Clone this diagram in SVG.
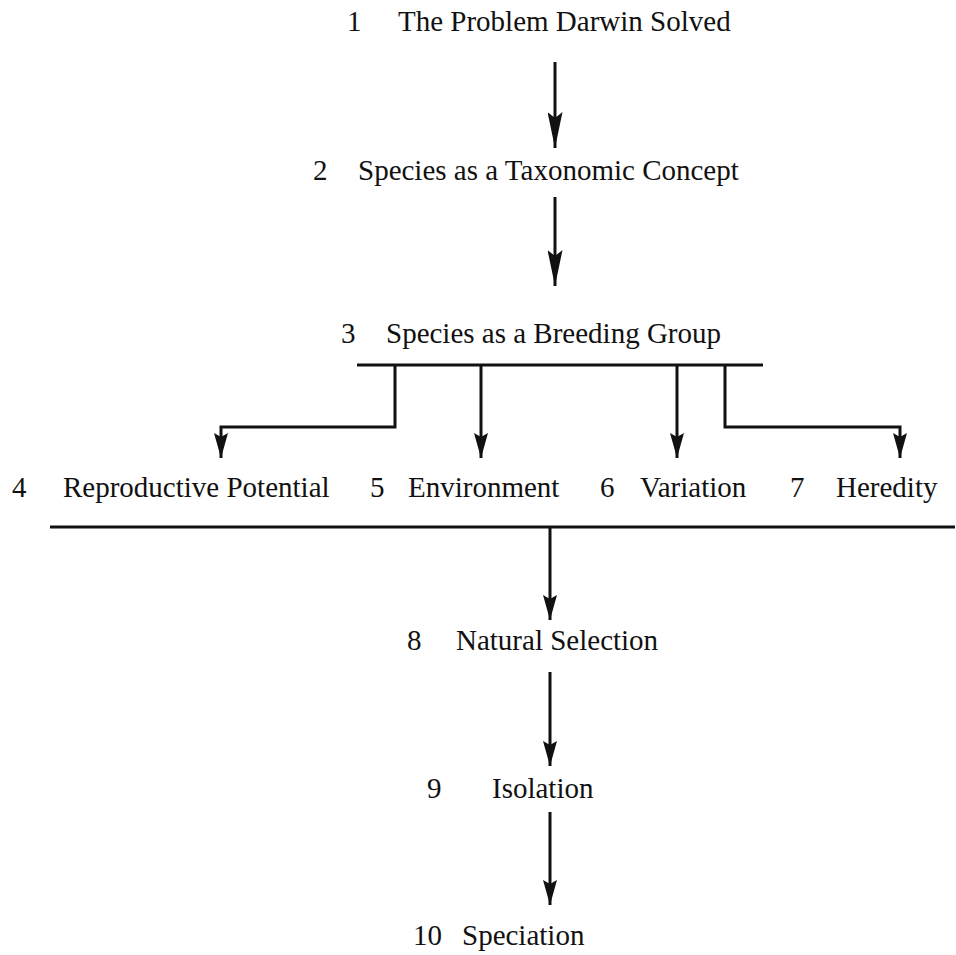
<svg xmlns="http://www.w3.org/2000/svg" width="956" height="955" viewBox="0 0 956 955">
<defs>
<style>
text{font-family:"Liberation Serif","Times New Roman",serif;font-size:29px;fill:#111}
.c{stroke:#111;stroke-width:3;fill:none}
.h{fill:#111;stroke:none}
</style>
<marker id="big" viewBox="0 0 36 15" refX="36" refY="7.5" markerWidth="36" markerHeight="15" markerUnits="userSpaceOnUse" orient="auto">
<path class="h" d="M0,0 L36,7.5 L0,15 L6,7.5 Z"/>
</marker>
<marker id="small" viewBox="0 0 25 14" refX="25" refY="7" markerWidth="25" markerHeight="14" markerUnits="userSpaceOnUse" orient="auto">
<path class="h" d="M0,0 L25,7 L0,14 L4,7 Z"/>
</marker>
</defs>
<rect width="956" height="955" fill="#fff"/>
<g id="n1"><text x="347" y="31">1</text><text x="398" y="31">The Problem Darwin Solved</text></g>
<g id="n2"><text x="313" y="180">2</text><text x="358" y="180">Species as a Taxonomic Concept</text></g>
<g id="n3"><text x="341" y="343">3</text><text x="386" y="343">Species as a Breeding Group</text></g>
<g id="n4"><text x="12" y="497">4</text><text x="63" y="497">Reproductive Potential</text></g>
<g id="n5"><text x="370" y="497">5</text><text x="408" y="497">Environment</text></g>
<g id="n6"><text x="600" y="497">6</text><text x="640" y="497">Variation</text></g>
<g id="n7"><text x="790" y="497">7</text><text x="836" y="497">Heredity</text></g>
<g id="n8"><text x="407" y="650">8</text><text x="456" y="650">Natural Selection</text></g>
<g id="n9"><text x="427" y="798">9</text><text x="492" y="798">Isolation</text></g>
<g id="n10"><text x="413" y="945">10</text><text x="462" y="945">Speciation</text></g>
<g id="connectors">
<line class="c" x1="555" y1="62" x2="555" y2="148" marker-end="url(#big)"/>
<line class="c" x1="555" y1="197" x2="555" y2="286" marker-end="url(#big)"/>
<line class="c" x1="357" y1="365" x2="763" y2="365"/>
<polyline class="c" points="395,365 395,427 221,427 221,458" marker-end="url(#small)"/>
<line class="c" x1="481" y1="365" x2="481" y2="458" marker-end="url(#small)"/>
<line class="c" x1="677" y1="365" x2="677" y2="458" marker-end="url(#small)"/>
<polyline class="c" points="725,365 725,427 900,427 900,458" marker-end="url(#small)"/>
<line class="c" x1="50" y1="527" x2="955" y2="527"/>
<line class="c" x1="550" y1="527" x2="550" y2="620" marker-end="url(#small)"/>
<line class="c" x1="550" y1="672" x2="550" y2="766" marker-end="url(#small)"/>
<line class="c" x1="550" y1="812" x2="550" y2="905" marker-end="url(#small)"/>
</g>
</svg>
